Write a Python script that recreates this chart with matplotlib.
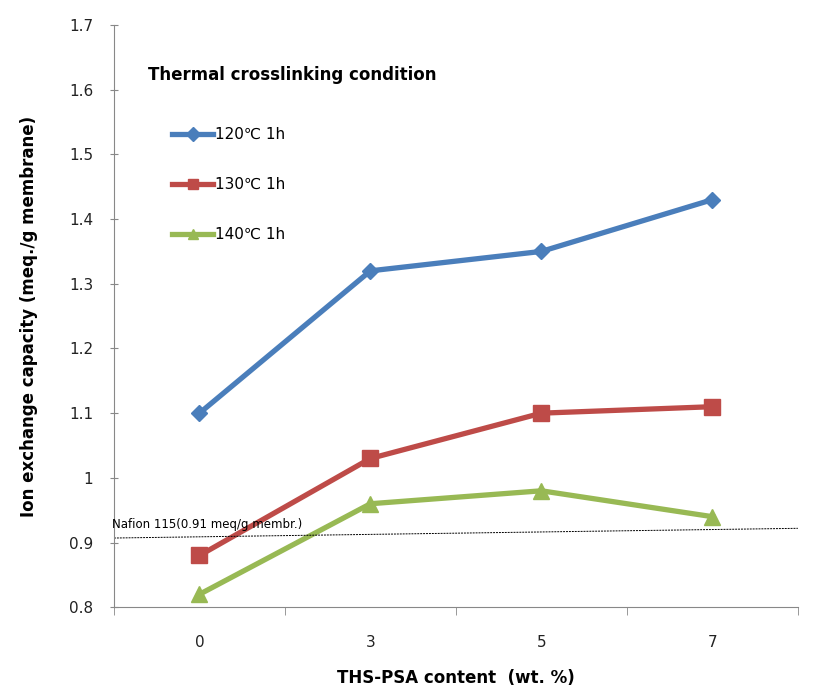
import numpy as np
import matplotlib.pyplot as plt

categories = ['0', '3', '5', '7']
ice_120 = [1.10, 1.32, 1.35, 1.43]
ice_130 = [0.88, 1.03, 1.10, 1.11]
ice_140 = [0.82, 0.96, 0.98, 0.94]
labels = ['120\u2103 1h', '130\u2103 1h', '140\u2103 1h']
nafion_ends = [0.907, 0.922]

fig = plt.figure(figsize=(8.2, 6.94), dpi=100)
ax = fig.add_axes([0.139, 0.125, 0.834, 0.839])

x = np.arange(len(categories))
ax.plot(x, ice_120, color='#4A7EBB', lw=3.8, marker='D', ms=8, label=labels[0])
ax.plot(x, ice_130, color='#BE4B48', lw=3.8, marker='s', ms=11, label=labels[1])
ax.plot(x, ice_140, color='#98B954', lw=3.8, marker='^', ms=12, label=labels[2])

ax.plot([-0.5, 3.5], nafion_ends, color='black', lw=0.7, ls=(0, (2, 1)))
ax.text(-0.51, 0.928, 'Nafion 115(0.91 meq/g membr.)', fontsize=8.5, ha='left', va='center')

ax.set_xlim(-0.5, 3.5)
ax.set_ylim(0.8, 1.7)
ax.set_yticks(np.arange(0.8, 1.71, 0.1))
ax.set_yticklabels(['0.8', '0.9', '1', '1.1', '1.2', '1.3', '1.4', '1.5', '1.6', '1.7'])
ax.set_xticks(x)
ax.set_xticklabels(categories)
ax.set_xticks(np.arange(-0.5, 3.6, 1), minor=True)
ax.tick_params(axis='x', which='major', length=0, pad=20, labelsize=11, colors='#222222')
ax.tick_params(axis='x', which='minor', length=6, direction='out', color='#888888')
ax.tick_params(axis='y', length=6, direction='inout', labelsize=11, color='#888888', labelcolor='#222222', pad=12)

for s in ['top', 'right']:
    ax.spines[s].set_visible(False)
for s in ['left', 'bottom']:
    ax.spines[s].set_color('#888888')

ax.set_ylabel('Ion exchange capacity (meq./g membrane)', fontsize=12, fontweight='bold', labelpad=22)
ax.set_xlabel('THS-PSA content  (wt. %)', fontsize=12, fontweight='bold', labelpad=14)

ax.text(0.05, 0.914, 'Thermal crosslinking condition', transform=ax.transAxes,
        fontsize=12, fontweight='bold', ha='left', va='center')
leg = ax.legend(loc='upper left', bbox_to_anchor=(0.085, 0.825), frameon=False,
                labelspacing=2.3, handlelength=2.7, handletextpad=0.1, fontsize=11,
                borderaxespad=0, borderpad=0)
for h in leg.legend_handles:
    h.set_markersize(7)

plt.savefig('out.png', dpi=100)
